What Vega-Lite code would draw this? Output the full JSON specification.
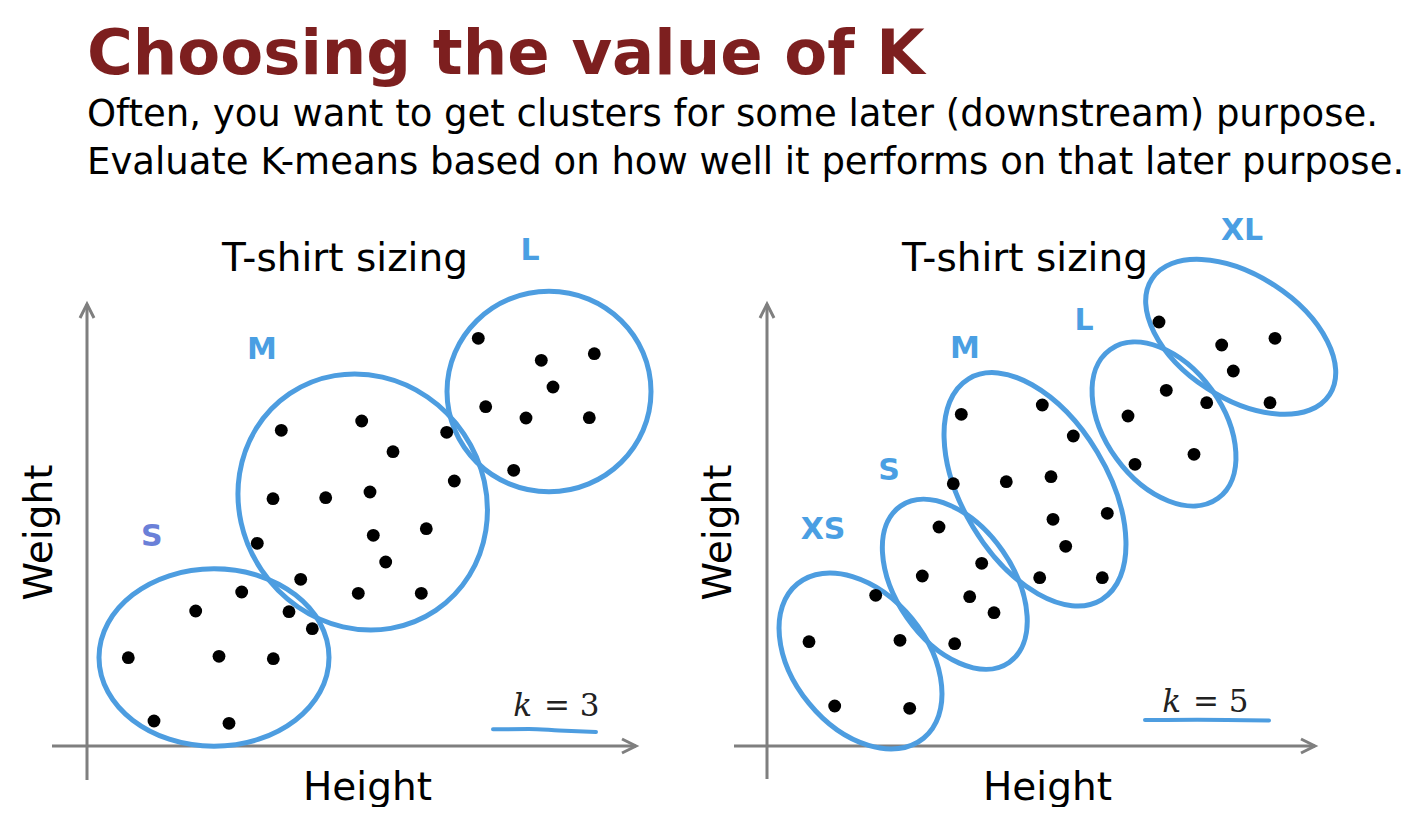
{
  "$schema": "https://vega.github.io/schema/vega-lite/v6.json",
  "background": "white",
  "padding": {"left": 20, "top": 23, "right": 0, "bottom": 0},
  "title": {
    "text": "Choosing the value of K",
    "subtitle": [
      "Often, you want to get clusters for some later (downstream) purpose.",
      "Evaluate K-means based on how well it performs on that later purpose."
    ],
    "anchor": "start",
    "dx": 67,
    "font": "DejaVu Sans",
    "fontSize": 62.5,
    "fontWeight": "bold",
    "color": "#7d1f1f",
    "subtitleFont": "DejaVu Sans",
    "subtitleFontSize": 37,
    "subtitleColor": "black",
    "subtitleLineHeight": 48,
    "subtitlePadding": 10,
    "offset": 34
  },
  "datasets": {
    "points": [
      {"panel": "k3", "cluster": "S", "h": 15.47, "w": 15.4},
      {"panel": "k3", "cluster": "S", "h": 10.87, "w": 13.5},
      {"panel": "k3", "cluster": "S", "h": 20.2, "w": 13.43},
      {"panel": "k3", "cluster": "S", "h": 22.53, "w": 11.73},
      {"panel": "k3", "cluster": "S", "h": 4.13, "w": 8.83},
      {"panel": "k3", "cluster": "S", "h": 13.2, "w": 8.97},
      {"panel": "k3", "cluster": "S", "h": 18.63, "w": 8.73},
      {"panel": "k3", "cluster": "S", "h": 6.7, "w": 2.5},
      {"panel": "k3", "cluster": "S", "h": 14.2, "w": 2.27},
      {"panel": "k3", "cluster": "M", "h": 19.43, "w": 31.57},
      {"panel": "k3", "cluster": "M", "h": 27.47, "w": 32.5},
      {"panel": "k3", "cluster": "M", "h": 30.6, "w": 29.43},
      {"panel": "k3", "cluster": "M", "h": 35.97, "w": 31.37},
      {"panel": "k3", "cluster": "M", "h": 18.6, "w": 24.73},
      {"panel": "k3", "cluster": "M", "h": 23.87, "w": 24.83},
      {"panel": "k3", "cluster": "M", "h": 28.3, "w": 25.4},
      {"panel": "k3", "cluster": "M", "h": 36.73, "w": 26.5},
      {"panel": "k3", "cluster": "M", "h": 17.03, "w": 20.27},
      {"panel": "k3", "cluster": "M", "h": 28.63, "w": 21.07},
      {"panel": "k3", "cluster": "M", "h": 33.93, "w": 21.73},
      {"panel": "k3", "cluster": "M", "h": 29.87, "w": 18.4},
      {"panel": "k3", "cluster": "M", "h": 21.37, "w": 16.67},
      {"panel": "k3", "cluster": "M", "h": 27.13, "w": 15.27},
      {"panel": "k3", "cluster": "M", "h": 33.43, "w": 15.27},
      {"panel": "k3", "cluster": "L", "h": 39.13, "w": 40.77},
      {"panel": "k3", "cluster": "L", "h": 45.43, "w": 38.57},
      {"panel": "k3", "cluster": "L", "h": 50.73, "w": 39.23},
      {"panel": "k3", "cluster": "L", "h": 46.6, "w": 35.9},
      {"panel": "k3", "cluster": "L", "h": 39.87, "w": 33.93},
      {"panel": "k3", "cluster": "L", "h": 43.9, "w": 32.8},
      {"panel": "k3", "cluster": "L", "h": 50.23, "w": 32.83},
      {"panel": "k3", "cluster": "L", "h": 42.67, "w": 27.57},
      {"panel": "k5", "cluster": "XS", "h": 10.87, "w": 15.07},
      {"panel": "k5", "cluster": "XS", "h": 4.2, "w": 10.43},
      {"panel": "k5", "cluster": "XS", "h": 13.3, "w": 10.57},
      {"panel": "k5", "cluster": "XS", "h": 6.77, "w": 4.0},
      {"panel": "k5", "cluster": "XS", "h": 14.27, "w": 3.77},
      {"panel": "k5", "cluster": "S", "h": 17.2, "w": 21.9},
      {"panel": "k5", "cluster": "S", "h": 21.47, "w": 18.27},
      {"panel": "k5", "cluster": "S", "h": 15.53, "w": 17.0},
      {"panel": "k5", "cluster": "S", "h": 20.27, "w": 14.93},
      {"panel": "k5", "cluster": "S", "h": 22.7, "w": 13.33},
      {"panel": "k5", "cluster": "S", "h": 18.77, "w": 10.23},
      {"panel": "k5", "cluster": "M", "h": 19.43, "w": 33.17},
      {"panel": "k5", "cluster": "M", "h": 27.53, "w": 34.1},
      {"panel": "k5", "cluster": "M", "h": 30.63, "w": 31.0},
      {"panel": "k5", "cluster": "M", "h": 18.63, "w": 26.23},
      {"panel": "k5", "cluster": "M", "h": 23.93, "w": 26.43},
      {"panel": "k5", "cluster": "M", "h": 28.4, "w": 26.93},
      {"panel": "k5", "cluster": "M", "h": 28.6, "w": 22.67},
      {"panel": "k5", "cluster": "M", "h": 34.03, "w": 23.27},
      {"panel": "k5", "cluster": "M", "h": 29.87, "w": 19.97},
      {"panel": "k5", "cluster": "M", "h": 27.27, "w": 16.83},
      {"panel": "k5", "cluster": "M", "h": 33.53, "w": 16.83},
      {"panel": "k5", "cluster": "L", "h": 39.93, "w": 35.57},
      {"panel": "k5", "cluster": "L", "h": 43.97, "w": 34.33},
      {"panel": "k5", "cluster": "L", "h": 36.1, "w": 33.0},
      {"panel": "k5", "cluster": "L", "h": 42.7, "w": 29.17},
      {"panel": "k5", "cluster": "L", "h": 36.8, "w": 28.17},
      {"panel": "k5", "cluster": "XL", "h": 39.2, "w": 42.4},
      {"panel": "k5", "cluster": "XL", "h": 45.47, "w": 40.1},
      {"panel": "k5", "cluster": "XL", "h": 50.8, "w": 40.77},
      {"panel": "k5", "cluster": "XL", "h": 46.63, "w": 37.5},
      {"panel": "k5", "cluster": "XL", "h": 50.3, "w": 34.33}
    ],
    "ellipses": [
      {"panel": "k3", "cluster": "S", "h": 12.7, "w": 8.85},
      {"panel": "k3", "cluster": "M", "h": 27.57, "w": 24.4},
      {"panel": "k3", "cluster": "L", "h": 46.2, "w": 35.45},
      {"panel": "k5", "cluster": "XS", "h": 9.35, "w": 8.5},
      {"panel": "k5", "cluster": "S", "h": 18.78, "w": 16.17},
      {"panel": "k5", "cluster": "M", "h": 26.8, "w": 25.67},
      {"panel": "k5", "cluster": "L", "h": 39.7, "w": 32.2},
      {"panel": "k5", "cluster": "XL", "h": 47.37, "w": 40.92}
    ],
    "labels": [
      {"panel": "k3", "cluster": "S", "h": 6.47, "w": 20.9},
      {"panel": "k3", "cluster": "M", "h": 17.5, "w": 39.6},
      {"panel": "k3", "cluster": "L", "h": 44.3, "w": 49.5},
      {"panel": "k5", "cluster": "XS", "h": 5.6, "w": 21.6},
      {"panel": "k5", "cluster": "S", "h": 12.2, "w": 27.5},
      {"panel": "k5", "cluster": "M", "h": 19.8, "w": 39.7},
      {"panel": "k5", "cluster": "L", "h": 31.7, "w": 42.5},
      {"panel": "k5", "cluster": "XL", "h": 47.5, "w": 51.5}
    ],
    "axes": [
      {"panel": "k3", "h": -3.5, "h2": 54.9, "w": 0, "w2": 0},
      {"panel": "k3", "h": 0, "h2": 0, "w": -3.4, "w2": 44.2},
      {"panel": "k5", "h": -3.3, "h2": 54.8, "w": 0, "w2": 0},
      {"panel": "k5", "h": 0, "h2": 0, "w": -3.3, "w2": 44.2}
    ],
    "arrows": [
      {"panel": "k3", "dir": "x", "h": 54.9, "w": 0},
      {"panel": "k3", "dir": "y", "h": 0, "w": 44.2},
      {"panel": "k5", "dir": "x", "h": 54.8, "w": 0},
      {"panel": "k5", "dir": "y", "h": 0, "w": 44.2}
    ],
    "kvalue": [
      {"panel": "k3", "var": "k", "eq": "= 3", "h": 45.7, "w": 3.0},
      {"panel": "k5", "var": "k", "eq": "= 5", "h": 42.6, "w": 3.4}
    ],
    "underline": [
      {"panel": "k3", "h": 40.6, "w": 1.67},
      {"panel": "k3", "h": 44.2, "w": 1.7},
      {"panel": "k3", "h": 47.2, "w": 1.55},
      {"panel": "k3", "h": 50.9, "w": 1.4},
      {"panel": "k5", "h": 37.8, "w": 2.6},
      {"panel": "k5", "h": 43.0, "w": 2.62},
      {"panel": "k5", "h": 50.2, "w": 2.55}
    ]
  },
  "bounds": "flush",
  "spacing": 120,
  "hconcat": [
    {
      "width": 560,
      "height": 460,
      "title": {"text": "T-shirt sizing", "dx": -22, "dy": 58},
      "layer": [
        {
          "data": {"name": "axes"},
          "transform": [{"filter": "datum.panel === 'k3'"}],
          "mark": {"type": "rule", "color": "#7f7f7f", "strokeWidth": 3},
          "encoding": {
            "x": {"field": "h", "type": "quantitative"},
            "x2": {"field": "h2"},
            "y": {"field": "w", "type": "quantitative"},
            "y2": {"field": "w2"}
          }
        },
        {
          "data": {"name": "arrows"},
          "transform": [{"filter": "datum.panel === 'k3' && datum.dir === 'x'"}],
          "mark": {"type": "point", "shape": "M -2 -1 L 0 0 L -2 1", "size": 196, "filled": false, "color": "#7f7f7f", "strokeWidth": 3, "opacity": 1},
          "encoding": {
            "x": {"field": "h", "type": "quantitative"},
            "y": {"field": "w", "type": "quantitative"}
          }
        },
        {
          "data": {"name": "arrows"},
          "transform": [{"filter": "datum.panel === 'k3' && datum.dir === 'y'"}],
          "mark": {"type": "point", "shape": "M -2 -1 L 0 0 L -2 1", "angle": 270, "size": 196, "filled": false, "color": "#7f7f7f", "strokeWidth": 3, "opacity": 1},
          "encoding": {
            "x": {"field": "h", "type": "quantitative"},
            "y": {"field": "w", "type": "quantitative"}
          }
        },
        {
          "data": {"name": "ellipses"},
          "transform": [{"filter": "datum.panel === 'k3' && datum.cluster === 'S'"}],
          "mark": {"type": "point", "shape": "M 1 0 C 1 0.426 0.552 0.771 0 0.771 C -0.552 0.771 -1 0.426 -1 0 C -1 -0.426 -0.552 -0.771 0 -0.771 C 0.552 -0.771 1 -0.426 1 0 Z", "size": 52900, "angle": 0, "filled": false, "color": "#4d9de0", "strokeWidth": 5, "opacity": 1},
          "encoding": {
            "x": {"field": "h", "type": "quantitative"},
            "y": {"field": "w", "type": "quantitative"}
          }
        },
        {
          "data": {"name": "ellipses"},
          "transform": [{"filter": "datum.panel === 'k3' && datum.cluster === 'M'"}],
          "mark": {"type": "point", "shape": "M 1 0 C 1 0.515 0.552 0.933 0 0.933 C -0.552 0.933 -1 0.515 -1 0 C -1 -0.515 -0.552 -0.933 0 -0.933 C 0.552 -0.933 1 -0.515 1 0 Z", "size": 68330, "angle": 56, "filled": false, "color": "#4d9de0", "strokeWidth": 5, "opacity": 1},
          "encoding": {
            "x": {"field": "h", "type": "quantitative"},
            "y": {"field": "w", "type": "quantitative"}
          }
        },
        {
          "data": {"name": "ellipses"},
          "transform": [{"filter": "datum.panel === 'k3' && datum.cluster === 'L'"}],
          "mark": {"type": "point", "shape": "M 1 0 C 1 0.543 0.552 0.983 0 0.983 C -0.552 0.983 -1 0.543 -1 0 C -1 -0.543 -0.552 -0.983 0 -0.983 C 0.552 -0.983 1 -0.543 1 0 Z", "size": 41616, "angle": 0, "filled": false, "color": "#4d9de0", "strokeWidth": 5, "opacity": 1},
          "encoding": {
            "x": {"field": "h", "type": "quantitative"},
            "y": {"field": "w", "type": "quantitative"}
          }
        },
        {
          "data": {"name": "points"},
          "transform": [{"filter": "datum.panel === 'k3'"}],
          "mark": {"type": "circle", "size": 165, "color": "black", "opacity": 1},
          "encoding": {
            "x": {
              "field": "h", "type": "quantitative",
              "scale": {"domain": [0, 56], "nice": false, "zero": false},
              "axis": {"title": "Height", "titleY": 53, "titleBaseline": "alphabetic"}
            },
            "y": {
              "field": "w", "type": "quantitative",
              "scale": {"domain": [0, 46], "nice": false, "zero": false},
              "axis": {"title": "Weight", "titleX": -36, "titleY": 246, "titleAngle": 270, "titleBaseline": "alphabetic"}
            }
          }
        },
        {
          "data": {"name": "labels"},
          "transform": [{"filter": "datum.panel === 'k3'"}],
          "mark": {"type": "text", "font": "DejaVu Sans", "fontWeight": "bold", "fontSize": 30, "align": "center", "baseline": "middle"},
          "encoding": {
            "x": {"field": "h", "type": "quantitative"},
            "y": {"field": "w", "type": "quantitative"},
            "text": {"field": "cluster"},
            "color": {"condition": {"test": "datum.cluster === 'S'", "value": "#6a80d8"}, "value": "#4a9fe3"}
          }
        },
        {
          "data": {"name": "kvalue"},
          "transform": [{"filter": "datum.panel === 'k3'"}],
          "mark": {"type": "text", "font": "DejaVu Serif", "fontStyle": "italic", "fontSize": 31, "align": "right", "baseline": "alphabetic", "dx": -12, "color": "#222222"},
          "encoding": {
            "x": {"field": "h", "type": "quantitative"},
            "y": {"field": "w", "type": "quantitative"},
            "text": {"field": "var"}
          }
        },
        {
          "data": {"name": "kvalue"},
          "transform": [{"filter": "datum.panel === 'k3'"}],
          "mark": {"type": "text", "font": "DejaVu Serif", "fontSize": 31, "align": "left", "baseline": "alphabetic", "color": "#222222"},
          "encoding": {
            "x": {"field": "h", "type": "quantitative"},
            "y": {"field": "w", "type": "quantitative"},
            "text": {"field": "eq"}
          }
        },
        {
          "data": {"name": "underline"},
          "transform": [{"filter": "datum.panel === 'k3'"}],
          "mark": {"type": "line", "color": "#4d9de0", "strokeWidth": 4, "strokeCap": "round", "interpolate": "monotone"},
          "encoding": {
            "x": {"field": "h", "type": "quantitative"},
            "y": {"field": "w", "type": "quantitative"}
          }
        }
      ]
    },
    {
      "width": 560,
      "height": 460,
      "title": {"text": "T-shirt sizing", "dx": -22, "dy": 78},
      "layer": [
        {
          "data": {"name": "axes"},
          "transform": [{"filter": "datum.panel === 'k5'"}],
          "mark": {"type": "rule", "color": "#7f7f7f", "strokeWidth": 3},
          "encoding": {
            "x": {"field": "h", "type": "quantitative"},
            "x2": {"field": "h2"},
            "y": {"field": "w", "type": "quantitative"},
            "y2": {"field": "w2"}
          }
        },
        {
          "data": {"name": "arrows"},
          "transform": [{"filter": "datum.panel === 'k5' && datum.dir === 'x'"}],
          "mark": {"type": "point", "shape": "M -2 -1 L 0 0 L -2 1", "size": 196, "filled": false, "color": "#7f7f7f", "strokeWidth": 3, "opacity": 1},
          "encoding": {
            "x": {"field": "h", "type": "quantitative"},
            "y": {"field": "w", "type": "quantitative"}
          }
        },
        {
          "data": {"name": "arrows"},
          "transform": [{"filter": "datum.panel === 'k5' && datum.dir === 'y'"}],
          "mark": {"type": "point", "shape": "M -2 -1 L 0 0 L -2 1", "angle": 270, "size": 196, "filled": false, "color": "#7f7f7f", "strokeWidth": 3, "opacity": 1},
          "encoding": {
            "x": {"field": "h", "type": "quantitative"},
            "y": {"field": "w", "type": "quantitative"}
          }
        },
        {
          "data": {"name": "ellipses"},
          "transform": [{"filter": "datum.panel === 'k5' && datum.cluster === 'XS'"}],
          "mark": {"type": "point", "shape": "M 1 0 C 1 0.369 0.552 0.669 0 0.669 C -0.552 0.669 -1 0.369 -1 0 C -1 -0.369 -0.552 -0.669 0 -0.669 C 0.552 -0.669 1 -0.369 1 0 Z", "size": 39760, "angle": 50.8, "filled": false, "color": "#4d9de0", "strokeWidth": 5, "opacity": 1},
          "encoding": {
            "x": {"field": "h", "type": "quantitative"},
            "y": {"field": "w", "type": "quantitative"}
          }
        },
        {
          "data": {"name": "ellipses"},
          "transform": [{"filter": "datum.panel === 'k5' && datum.cluster === 'S'"}],
          "mark": {"type": "point", "shape": "M 1 0 C 1 0.339 0.552 0.613 0 0.613 C -0.552 0.613 -1 0.339 -1 0 C -1 -0.339 -0.552 -0.613 0 -0.613 C 0.552 -0.613 1 -0.339 1 0 Z", "size": 36252, "angle": 55.2, "filled": false, "color": "#4d9de0", "strokeWidth": 5, "opacity": 1},
          "encoding": {
            "x": {"field": "h", "type": "quantitative"},
            "y": {"field": "w", "type": "quantitative"}
          }
        },
        {
          "data": {"name": "ellipses"},
          "transform": [{"filter": "datum.panel === 'k5' && datum.cluster === 'M'"}],
          "mark": {"type": "point", "shape": "M 1 0 C 1 0.311 0.552 0.563 0 0.563 C -0.552 0.563 -1 0.311 -1 0 C -1 -0.311 -0.552 -0.563 0 -0.563 C 0.552 -0.563 1 -0.311 1 0 Z", "size": 66461, "angle": 59, "filled": false, "color": "#4d9de0", "strokeWidth": 5, "opacity": 1},
          "encoding": {
            "x": {"field": "h", "type": "quantitative"},
            "y": {"field": "w", "type": "quantitative"}
          }
        },
        {
          "data": {"name": "ellipses"},
          "transform": [{"filter": "datum.panel === 'k5' && datum.cluster === 'L'"}],
          "mark": {"type": "point", "shape": "M 1 0 C 1 0.353 0.552 0.64 0 0.64 C -0.552 0.64 -1 0.353 -1 0 C -1 -0.353 -0.552 -0.64 0 -0.64 C 0.552 -0.64 1 -0.353 1 0 Z", "size": 33782, "angle": 54, "filled": false, "color": "#4d9de0", "strokeWidth": 5, "opacity": 1},
          "encoding": {
            "x": {"field": "h", "type": "quantitative"},
            "y": {"field": "w", "type": "quantitative"}
          }
        },
        {
          "data": {"name": "ellipses"},
          "transform": [{"filter": "datum.panel === 'k5' && datum.cluster === 'XL'"}],
          "mark": {"type": "point", "shape": "M 1 0 C 1 0.321 0.552 0.581 0 0.581 C -0.552 0.581 -1 0.321 -1 0 C -1 -0.321 -0.552 -0.581 0 -0.581 C 0.552 -0.581 1 -0.321 1 0 Z", "size": 44944, "angle": 33, "filled": false, "color": "#4d9de0", "strokeWidth": 5, "opacity": 1},
          "encoding": {
            "x": {"field": "h", "type": "quantitative"},
            "y": {"field": "w", "type": "quantitative"}
          }
        },
        {
          "data": {"name": "points"},
          "transform": [{"filter": "datum.panel === 'k5'"}],
          "mark": {"type": "circle", "size": 165, "color": "black", "opacity": 1},
          "encoding": {
            "x": {
              "field": "h", "type": "quantitative",
              "scale": {"domain": [0, 56], "nice": false, "zero": false},
              "axis": {"title": "Height", "titleY": 53, "titleBaseline": "alphabetic"}
            },
            "y": {
              "field": "w", "type": "quantitative",
              "scale": {"domain": [0, 46], "nice": false, "zero": false},
              "axis": {"title": "Weight", "titleX": -37, "titleY": 246, "titleAngle": 270, "titleBaseline": "alphabetic"}
            }
          }
        },
        {
          "data": {"name": "labels"},
          "transform": [{"filter": "datum.panel === 'k5'"}],
          "mark": {"type": "text", "font": "DejaVu Sans", "fontWeight": "bold", "fontSize": 30, "align": "center", "baseline": "middle", "color": "#4a9fe3"},
          "encoding": {
            "x": {"field": "h", "type": "quantitative"},
            "y": {"field": "w", "type": "quantitative"},
            "text": {"field": "cluster"}
          }
        },
        {
          "data": {"name": "kvalue"},
          "transform": [{"filter": "datum.panel === 'k5'"}],
          "mark": {"type": "text", "font": "DejaVu Serif", "fontStyle": "italic", "fontSize": 31, "align": "right", "baseline": "alphabetic", "dx": -12, "color": "#222222"},
          "encoding": {
            "x": {"field": "h", "type": "quantitative"},
            "y": {"field": "w", "type": "quantitative"},
            "text": {"field": "var"}
          }
        },
        {
          "data": {"name": "kvalue"},
          "transform": [{"filter": "datum.panel === 'k5'"}],
          "mark": {"type": "text", "font": "DejaVu Serif", "fontSize": 31, "align": "left", "baseline": "alphabetic", "color": "#222222"},
          "encoding": {
            "x": {"field": "h", "type": "quantitative"},
            "y": {"field": "w", "type": "quantitative"},
            "text": {"field": "eq"}
          }
        },
        {
          "data": {"name": "underline"},
          "transform": [{"filter": "datum.panel === 'k5'"}],
          "mark": {"type": "line", "color": "#4d9de0", "strokeWidth": 4, "strokeCap": "round", "interpolate": "monotone"},
          "encoding": {
            "x": {"field": "h", "type": "quantitative"},
            "y": {"field": "w", "type": "quantitative"}
          }
        }
      ]
    }
  ],
  "config": {
    "view": {"stroke": null},
    "axis": {
      "domain": false,
      "ticks": false,
      "labels": false,
      "grid": false,
      "titleFont": "DejaVu Sans",
      "titleFontSize": 39,
      "titleFontWeight": "normal",
      "titleColor": "black"
    },
    "title": {
      "font": "DejaVu Sans",
      "fontSize": 39,
      "fontWeight": "normal",
      "color": "black",
      "anchor": "middle",
      "baseline": "alphabetic",
      "offset": 15
    }
  }
}
